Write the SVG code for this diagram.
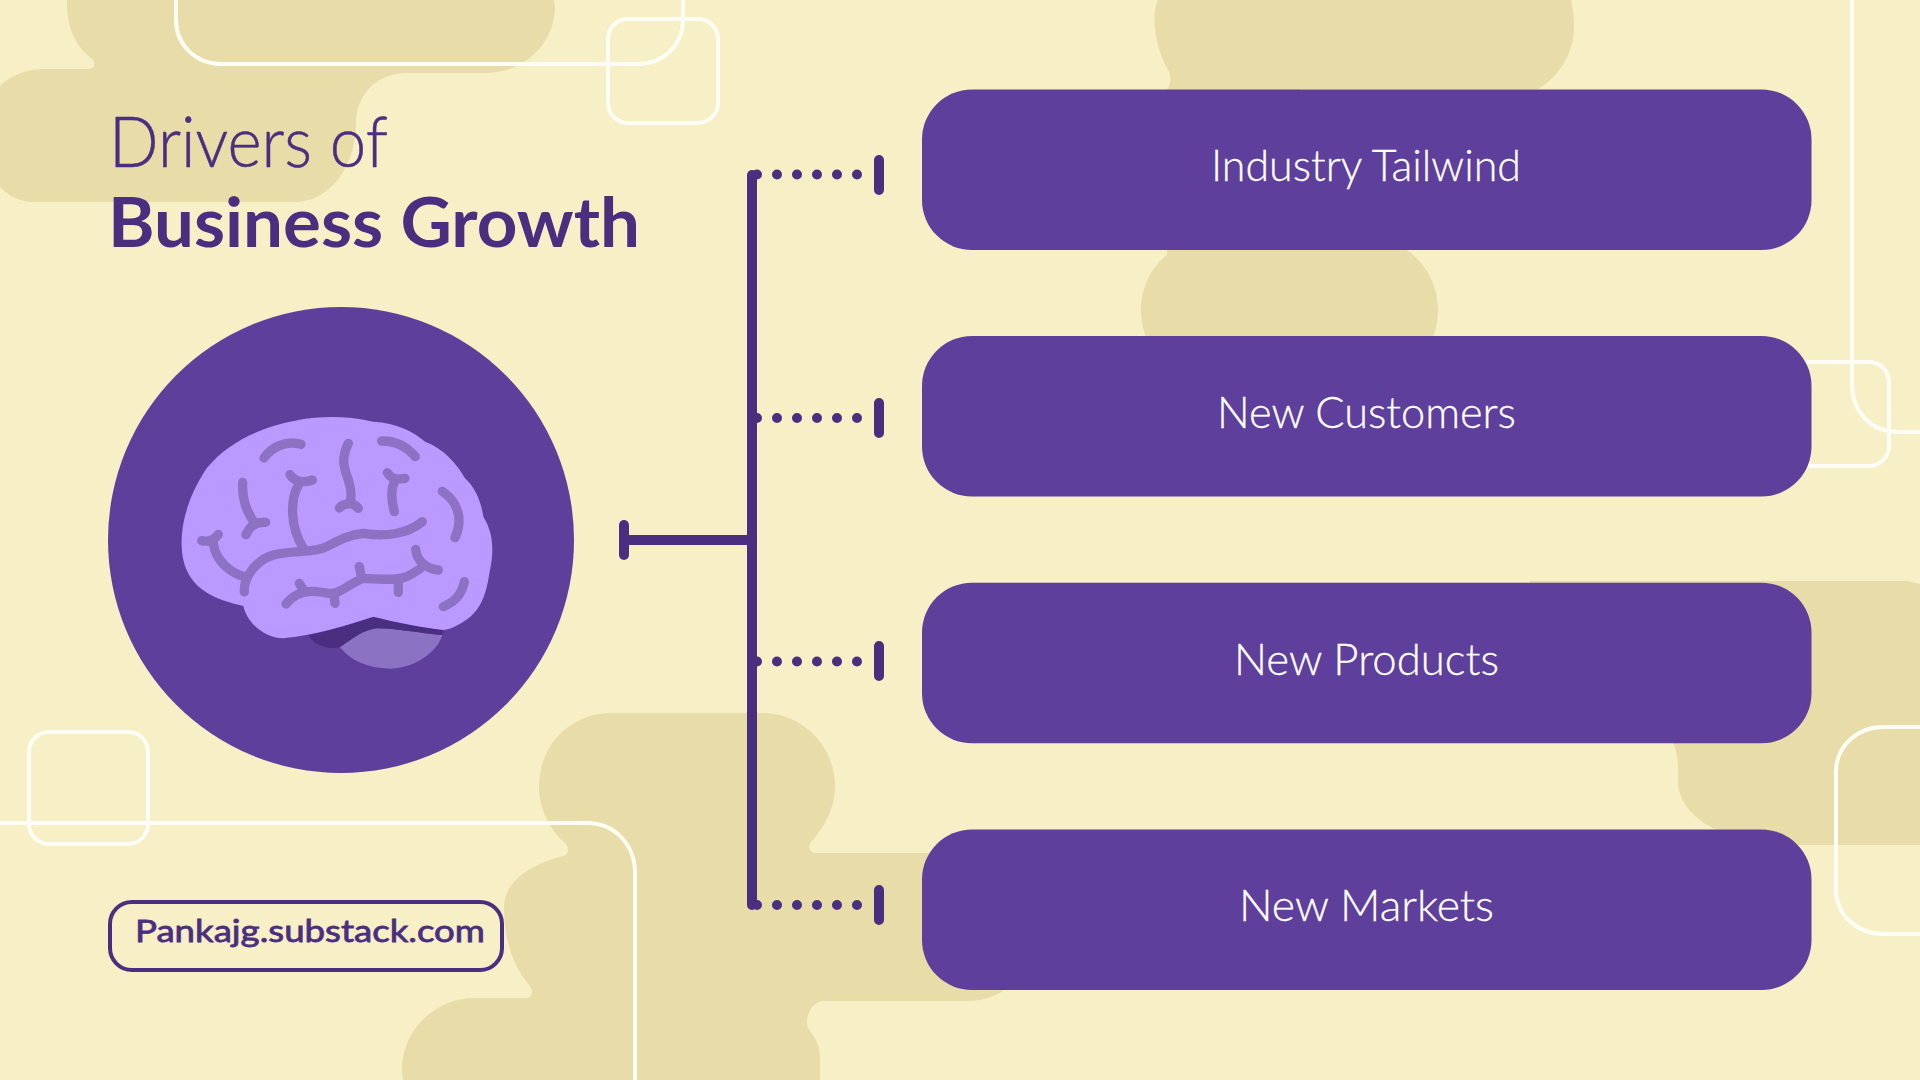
<svg xmlns="http://www.w3.org/2000/svg" width="1920" height="1080" viewBox="0 0 1920 1080">
<style>
.blob{fill:#E8DCA9}
.wl{fill:none;stroke:#FFFDF5;stroke-width:4}
.box{fill:#5E3F9B}
.lab{font-family:"Lato","Liberation Sans",sans-serif;font-weight:300;font-size:44px;fill:#fff;stroke:#fff;stroke-width:.3}
.dark{font-family:"Lato","Liberation Sans",sans-serif;fill:#4A2F80}
.conn{stroke:#4A2F80;stroke-width:10;stroke-linecap:round;fill:none}
.dots{stroke:#4A2F80;stroke-width:10;stroke-linecap:round;stroke-dasharray:0 20;fill:none}
.vein{fill:none;stroke:#8D72C4;stroke-width:28;stroke-linecap:round;stroke-linejoin:round}
</style>
<rect width="1920" height="1080" fill="#F7EFC5"/>
<g id="background">
<path class="blob" d="M67 0C66 25 75 46 91 58C96 62 95 69 89 69H45C25 69 10 76 0 86V187C9 196 20 202 33 202H295C330 202 356 166 356 123C356 94 378 73 406 73H486C525 73 555 42 555 7L554 0Z"/>
<path class="blob" d="M1158 0C1152 10 1153 45 1168 70C1172 77 1171 84 1167 90V250L1167 255C1151 267 1141 288 1141 310C1141 320 1143 330 1147 340H1432C1436 330 1438 320 1438 310C1438 285 1426 264 1407 250H1300V89H1538C1560 76 1574 52 1574 27C1574 17 1573 8 1571 0Z"/>
<path class="blob" d="M612 713C570 713 539 745 539 787C539 808 550 830 565 843C570 848 568 854 564 856C530 864 504 882 504 907C504 937 512 965 529 985C534 990 533 998 526 998H475C435 998 402 1030 402 1070L403 1080H820V1057C820 1045 815 1037 808 1028C804 1018 812 1001 823 1001H966C985 1001 1000 995 1010 985V853H816C809 853 807 845 813 840C825 825 835 808 835 787C835 745 802 713 762 713Z"/>
<path class="blob" d="M1530 581H1907L1920 584V845H1790C1730 845 1678 820 1678 780V770C1678 760 1677 750 1673 743L1530 700Z"/>
<path class="wl" d="M176 0V20C176 45 196 64 221 64H638C663 64 683 45 683 20V0"/>
<rect class="wl" x="608" y="19" width="110" height="104" rx="20"/>
<rect class="wl" x="29" y="732" width="119" height="112" rx="20"/>
<path class="wl" d="M0 823H587C615 823 635 845 635 873V1080"/>
<path class="wl" d="M1852 0V385C1852 412 1872 432 1897 432H1920"/>
<rect class="wl" x="1780" y="362" width="109" height="104" rx="20"/>
<path class="wl" d="M1930 727H1884C1857 727 1836 746 1836 772V889C1836 915 1857 934 1884 934H1930"/>
</g>
<g id="connectors">
<path class="conn" d="M752 175V905"/>
<path class="conn" d="M624 540H752"/>
<path class="conn" d="M624 525V555"/>
<path class="dots" d="M757 174.500H862M757 418H862M757 661.500H862M757 905H862"/>
<path class="conn" d="M879 160V190M879 403V433M879 646V676M879 890V920"/>
</g>
<g id="title">
<text class="dark" x="109" y="167" font-size="70" font-weight="300" textLength="279" lengthAdjust="spacingAndGlyphs" stroke="#4A2F80" stroke-width=".5">Drivers of</text>
<text class="dark" x="108" y="247" font-size="68" font-weight="700" textLength="532" lengthAdjust="spacingAndGlyphs">Business Growth</text>
</g>
<g id="brain-node">
<circle cx="341" cy="540" r="233" fill="#5E3F9B"/>
<g transform="translate(150 390) scale(.33333)">
<path fill="#8B72C2" d="M570 772C600 745 640 720 680 715C740 715 810 730 877 735C860 790 790 835 720 836C650 835 600 810 570 772Z"/>
<path fill="#4A2F80" d="M475 735C490 765 540 785 575 768C610 745 640 720 680 715C740 715 810 730 877 735L880 718C800 710 730 695 670 680C590 705 530 725 475 735Z"/>
<path fill="#BB9AFF" d="M280 648C200 630 120 600 100 510C85 440 100 340 170 235C230 160 320 120 400 100C470 82 560 70 670 95C740 98 790 125 825 155C880 175 920 220 945 265C975 290 995 340 1000 380C1025 420 1035 470 1020 540C1010 600 1000 660 940 695C910 715 890 718 880 720C800 710 730 695 670 680C590 705 500 735 400 745C340 745 290 695 280 648Z"/>
<path class="vein" d="M342 204C365 170 410 150 453 163M595 160C570 210 585 240 595 270C605 300 605 320 600 340M568 354C580 340 610 335 625 355M695 153C735 152 770 170 796 200M278 277C275 330 290 360 310 395M288 434C300 405 320 395 347 397M420 254C435 275 460 280 487 270M445 285C420 330 420 410 460 475M712 248C725 270 745 268 765 265M735 270C720 300 725 335 733 365M877 304C925 335 940 390 915 443M817 395C770 435 700 440 640 430C590 435 560 455 530 470C490 490 430 480 370 495C320 510 280 560 283 606M155 452C170 455 190 455 205 433M190 460C195 510 240 550 290 562M408 642C430 615 460 600 500 605C530 607 545 615 560 607C590 595 610 575 640 565C680 565 730 575 770 560C790 550 810 540 820 525M797 478C800 510 825 535 865 540M448 580L460 600M555 640L552 615M628 530L634 560M745 607L745 575M943 575C935 615 915 635 880 650"/>
</g>
</g>
<g id="node-industry-tailwind"><rect class="box" x="922" y="89.500" width="889.500" height="160.500" rx="50"/><text class="lab" x="1211" y="180.500" textLength="310" lengthAdjust="spacingAndGlyphs">Industry Tailwind</text></g>
<g id="node-new-customers"><rect class="box" x="922" y="336" width="889.500" height="160.500" rx="50"/><text class="lab" x="1217" y="427.500" textLength="299" lengthAdjust="spacingAndGlyphs">New Customers</text></g>
<g id="node-new-products"><rect class="box" x="922" y="582.700" width="889.500" height="160.500" rx="50"/><text class="lab" x="1234" y="674.500" textLength="265" lengthAdjust="spacingAndGlyphs">New Products</text></g>
<g id="node-new-markets"><rect class="box" x="922" y="829.500" width="889.500" height="160.500" rx="50"/><text class="lab" x="1239" y="921" textLength="255" lengthAdjust="spacingAndGlyphs">New Markets</text></g>
<g id="url-pill">
<rect x="110" y="902" width="392" height="68" rx="22" fill="none" stroke="#4A2F80" stroke-width="4"/>
<text class="dark" x="135" y="942" font-size="31" font-weight="400" textLength="350" lengthAdjust="spacingAndGlyphs" stroke="#4A2F80" stroke-width=".8">Pankajg.substack.com</text>
</g>
</svg>
